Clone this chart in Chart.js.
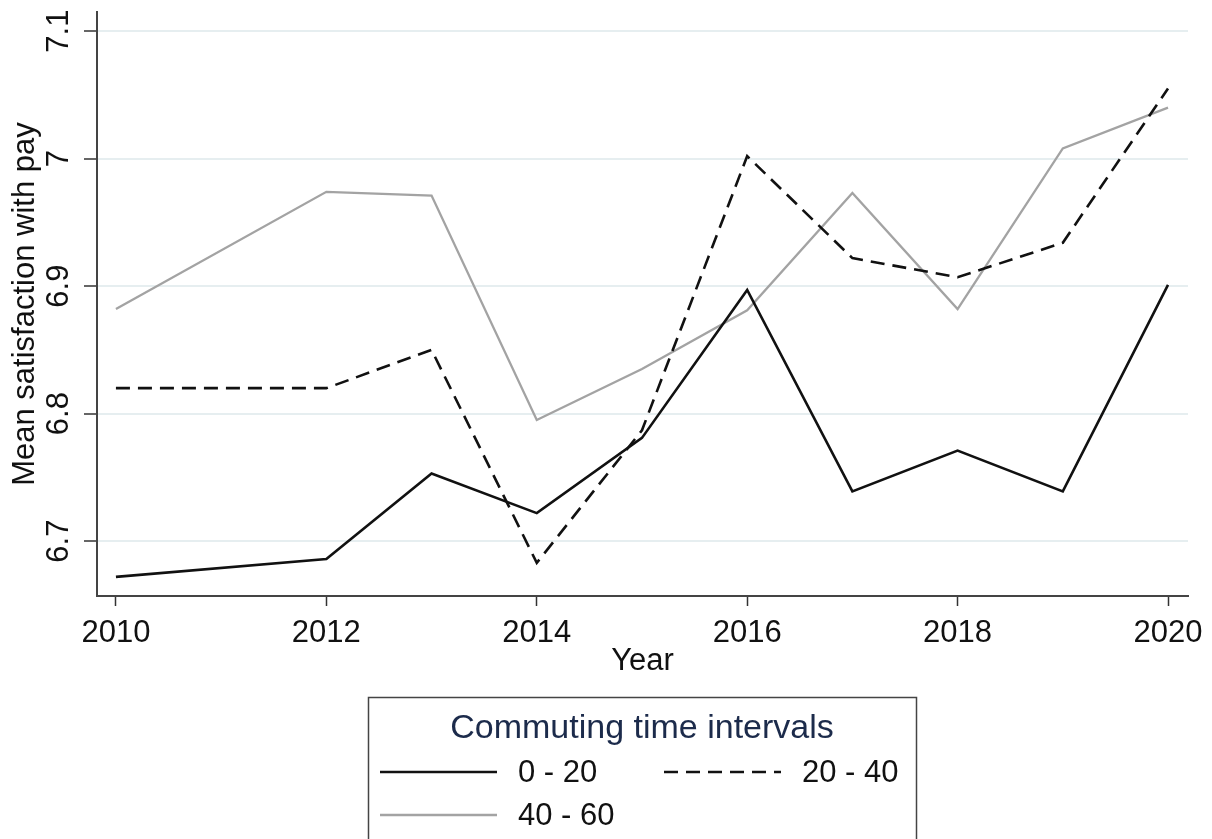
<!DOCTYPE html>
<html>
<head>
<meta charset="utf-8">
<script src="https://cdn.jsdelivr.net/npm/chart.js@4/dist/chart.umd.min.js"></script>
<style>
  html, body { margin: 0; padding: 0; background: #fff; }
  #wrap { width: 1212px; height: 839px; position: relative; }
</style>
</head>
<body>
<div id="wrap"><canvas id="pay_chart" width="1212" height="839"></canvas></div>
<script>
// Data
const years = [2010, 2012, 2013, 2014, 2015, 2016, 2017, 2018, 2019, 2020];
const commute_0_20  = [6.672, 6.686, 6.753, 6.722, 6.781, 6.897, 6.739, 6.771, 6.739, 6.901];
const commute_20_40 = [6.820, 6.820, 6.850, 6.683, 6.787, 7.002, 6.922, 6.907, 6.934, 7.055];
const commute_40_60 = [6.882, 6.974, 6.971, 6.795, 6.835, 6.881, 6.973, 6.882, 7.008, 7.040];
const series_labels = ['0 - 20', '20 - 40', '40 - 60'];
const x_ticks = [2010, 2012, 2014, 2016, 2018, 2020];
const y_ticks = [6.7, 6.8, 6.9, 7.0, 7.1];
const legend_title = 'Commuting time intervals';

const FONT = '"Liberation Sans", Arial, sans-serif';

function toPoints(values){
	return values.map((v, i) => ({x: years[i], y: v}));
}

// legend drawn in a box below the plot, like the Stata original
const legendBox = {
	id: 'legendBox',
	afterDraw(chart){
		const ctx = chart.ctx;
		const sets = chart.data.datasets;
		ctx.save();
		ctx.strokeStyle = '#444';
		ctx.lineWidth = 1.5;
		ctx.strokeRect(368.5, 697.5, 548, 170);
		ctx.textBaseline = 'middle';
		ctx.textAlign = 'center';
		ctx.fillStyle = '#1c2b4b';
		ctx.font = '34px ' + FONT;
		ctx.fillText(legend_title, 642, 729);
		ctx.font = '31px ' + FONT;
		const slots = [[380, 772], [664, 772], [380, 815]];
		sets.forEach((d, i) => {
			const [x, y] = slots[i];
			ctx.beginPath();
			ctx.strokeStyle = d.borderColor;
			ctx.lineWidth = d.borderWidth;
			ctx.setLineDash(d.borderDash || []);
			ctx.moveTo(x, y);
			ctx.lineTo(x + 117, y);
			ctx.stroke();
			ctx.setLineDash([]);
			ctx.fillStyle = '#111';
			ctx.textAlign = 'left';
			ctx.fillText(d.label, x + 138, y + 1);
		});
		ctx.restore();
	}
};

const bgWhite = {
	id: 'bgWhite',
	beforeDraw(chart){
		const ctx = chart.ctx;
		ctx.save();
		ctx.fillStyle = '#fff';
		ctx.fillRect(0, 0, chart.width, chart.height);
		ctx.restore();
	}
};

const ctx = document.getElementById('pay_chart').getContext('2d');
const my_chart = new Chart(ctx, {
	type: 'line',
	data: {
		datasets: [{
			label: series_labels[0],
			data: toPoints(commute_0_20),
			borderColor: '#111',
			borderWidth: 2.6,
			pointRadius: 0,
			fill: false,
			tension: 0
		}, {
			label: series_labels[1],
			data: toPoints(commute_20_40),
			borderColor: '#111',
			borderWidth: 2.6,
			borderDash: [14, 8],
			pointRadius: 0,
			fill: false,
			tension: 0
		}, {
			label: series_labels[2],
			data: toPoints(commute_40_60),
			borderColor: '#a3a3a3',
			borderWidth: 2.3,
			pointRadius: 0,
			fill: false,
			tension: 0
		}]
	},
	options: {
		responsive: false,
		animation: false,
		devicePixelRatio: 1,
		layout: { padding: { left: 0, right: 24, top: 12, bottom: 159 } },
		plugins: {
			legend: { display: false },
			tooltip: { enabled: false }
		},
		scales: {
			x: {
				type: 'linear',
				min: 2009.82,
				max: 2020.19,
				afterBuildTicks: s => { s.ticks = x_ticks.map(v => ({value: v})); },
				afterFit: s => { s.height = 84; },
				grid: {
					drawOnChartArea: false,
					tickLength: 10,
					tickColor: '#333',
					tickWidth: 1.5
				},
				border: { color: '#444', width: 2 },
				ticks: {
					autoSkip: false,
					maxRotation: 0,
					padding: 9,
					color: '#111',
					font: { family: FONT, size: 31 },
					callback: v => String(v)
				},
				title: {
					display: true,
					text: 'Year',
					color: '#111',
					font: { family: FONT, size: 31 },
					padding: { top: 0, bottom: 0 }
				}
			},
			y: {
				type: 'linear',
				min: 6.657,
				max: 7.115,
				afterBuildTicks: s => { s.ticks = y_ticks.map(v => ({value: v})); },
				afterFit: s => { s.width = 97; s.paddingTop = 0; s.paddingBottom = 0; },
				grid: {
					color: '#e6eef0',
					lineWidth: 2,
					tickLength: 13,
					tickColor: '#333',
					tickWidth: 1.5
				},
				border: { color: '#444', width: 2 },
				ticks: {
					autoSkip: false,
					minRotation: 90,
					maxRotation: 90,
					crossAlign: 'center',
					padding: 2.5,
					color: '#111',
					font: { family: FONT, size: 31 },
					callback: v => String(Math.round(v * 10) / 10)
				},
				title: {
					display: true,
					text: 'Mean satisfaction with pay',
					color: '#111',
					font: { family: FONT, size: 31 },
					padding: { top: 7, bottom: 0 }
				}
			}
		}
	},
	plugins: [bgWhite, legendBox]
});
</script>
</body>
</html>
